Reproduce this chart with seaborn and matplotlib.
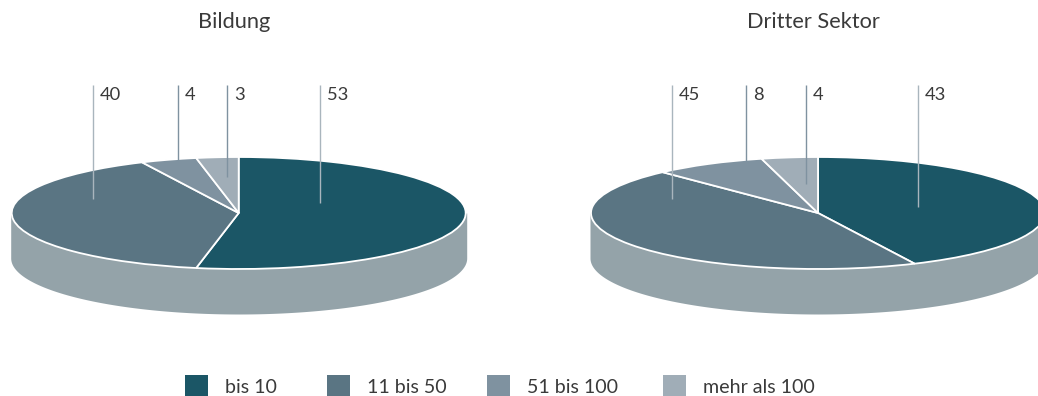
import numpy as np
import matplotlib
matplotlib.use("Agg")
import matplotlib.pyplot as plt
from matplotlib.patches import Rectangle
import seaborn as sns

categories = ["bis 10", "11 bis 50", "51 bis 100", "mehr als 100"]
bildung_values = [53, 40, 4, 3]
sektor_values = [43, 45, 8, 4]
panel_titles = ["Bildung", "Dritter Sektor"]
colours = ["#1b5666", "#5a7583", "#7f92a0", "#a0adb7"]
side_colour = "#94a3a9"
text_colour = "#3a3a3a"

W, H = 1038, 396
RX, RY, DEPTH = 227, 56, 45
CY = 213

sns.set_theme(style="white")
plt.rcParams["font.family"] = ["Lato", "DejaVu Sans"]
palette = sns.color_palette(colours)

fig = plt.figure(figsize=(W / 100, H / 100), dpi=100, facecolor="white")


def draw_disc(values, cx, left, right):
    """Flattened pie with an extruded rim, in an axes spanning left..right pixels."""
    ax = fig.add_axes([left / W, 0, (right - left) / W, 1])
    ax.pie(values, colors=palette, startangle=90, counterclock=False, radius=1,
           wedgeprops=dict(edgecolor="white", linewidth=1.3))
    ax.set_aspect("auto")
    ax.set_xlim((left - cx) / RX, (right - cx) / RX)
    ax.set_ylim((CY - H) / RY, CY / RY)
    # rim: the lower half of the ellipse pushed down by the disc depth
    t = np.linspace(0, np.pi, 300)
    rim_x = np.cos(t) * 228 / RX
    rim_y = -np.sin(t) - DEPTH / RY
    ax.fill_between(rim_x, 0, rim_y, color=side_colour, linewidth=0, zorder=0)
    ax.axis("off")


draw_disc(bildung_values, 238.7, 0, 519)
draw_disc(sektor_values, 818, 519, W)

# overlay in pixel coordinates for titles, leaders and the legend
ov = fig.add_axes([0, 0, 1, 1], facecolor="none")
ov.set_xlim(0, W)
ov.set_ylim(H, 0)
ov.axis("off")

title_x = [234.5, 813.5]
for x, title in zip(title_x, panel_titles):
    ov.text(x, 22, title, ha="center", va="center", fontsize=15.7, color=text_colour)

leader_x = [[320, 93, 178, 227], [918, 672, 746, 806]]
leader_end = [[203, 199, 169, 177], [207, 199, 176, 184]]
leader_colours = ["#a9b5bd", "#a9b5bd", "#7f92a0", "#7f92a0"]
for xs, ends, values in zip(leader_x, leader_end, [bildung_values, sektor_values]):
    for x, end, value, c in zip(xs, ends, values, leader_colours):
        ov.plot([x, x], [85, end], color=c, linewidth=1, solid_capstyle="butt")
        ov.text(x + 7, 95, str(value), ha="left", va="center", fontsize=13.2,
                color=text_colour)

swatch_x = [185, 327, 487, 663]
for x, label, c in zip(swatch_x, categories, palette):
    ov.add_patch(Rectangle((x, 375), 23, 22, facecolor=c, edgecolor="none"))
    ov.text(x + 40, 387.5, label, ha="left", va="center", fontsize=14.1, color=text_colour)

fig.savefig("out.png", dpi=100)
